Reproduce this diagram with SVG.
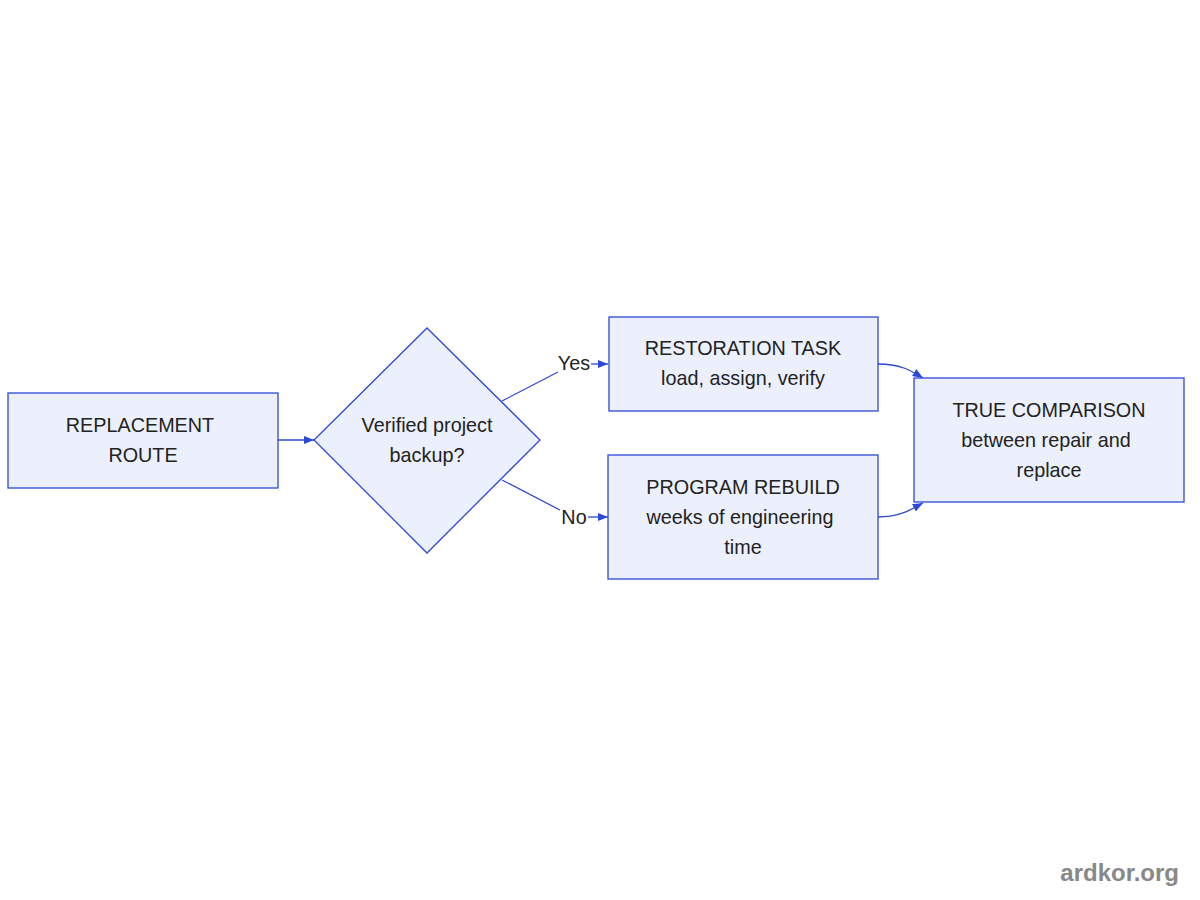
<svg xmlns="http://www.w3.org/2000/svg" width="1200" height="900" viewBox="0 0 1200 900">
<style>
.n{fill:#ECF0FD;stroke:#2D48D6;stroke-width:1.3}
.t{font-family:"Liberation Sans",Arial,sans-serif;font-size:19.8px;fill:#222;text-anchor:middle}
.c{fill:none;stroke:#2D48D6;stroke-width:1.3}
</style>
<defs><marker id="a" viewBox="0 0 10 10" refX="10" refY="5" markerWidth="8" markerHeight="8" orient="auto"><path d="M0,1 L10,5 L0,9 z" fill="#2D48D6"/></marker></defs>
<rect width="1200" height="900" fill="#fff"/>
<g id="connectors">
<path class="c" d="M278,440 L314,440" marker-end="url(#a)"/>
<path class="c" d="M502,401 L558,372"/>
<path class="c" d="M591,364 L608,364" marker-end="url(#a)"/>
<path class="c" d="M502,480 L560,510"/>
<path class="c" d="M588,517 L608,517" marker-end="url(#a)"/>
<path class="c" d="M878,364 C900,364 910,370 923,378" marker-end="url(#a)"/>
<path class="c" d="M878,517 C900,517 910,510 923,503" marker-end="url(#a)"/>
<text class="t" x="574" y="370">Yes</text>
<text class="t" x="574" y="524">No</text>
</g>
<g id="replacement"><rect class="n" x="8" y="393" width="270" height="95"/><text class="t" x="140" y="432">REPLACEMENT</text><text class="t" x="143" y="462">ROUTE</text></g>
<g id="backup"><polygon class="n" points="427,328 540,440 427,553 314,440"/><text class="t" x="427" y="432">Verified project</text><text class="t" x="427" y="462">backup?</text></g>
<g id="restoration"><rect class="n" x="609" y="317" width="269" height="94"/><text class="t" x="743" y="355">RESTORATION TASK</text><text class="t" x="743" y="385">load, assign, verify</text></g>
<g id="rebuild"><rect class="n" x="608" y="455" width="270" height="124"/><text class="t" x="743" y="494">PROGRAM REBUILD</text><text class="t" x="740" y="524">weeks of engineering</text><text class="t" x="743" y="554">time</text></g>
<g id="comparison"><rect class="n" x="914" y="378" width="270" height="124"/><text class="t" x="1049" y="417">TRUE COMPARISON</text><text class="t" x="1046" y="447">between repair and</text><text class="t" x="1049" y="477">replace</text></g>
<text x="1179" y="881" style="font-family:'Liberation Sans',Arial,sans-serif;font-size:24px;font-weight:bold;fill:#888;text-anchor:end">ardkor.org</text>
</svg>
